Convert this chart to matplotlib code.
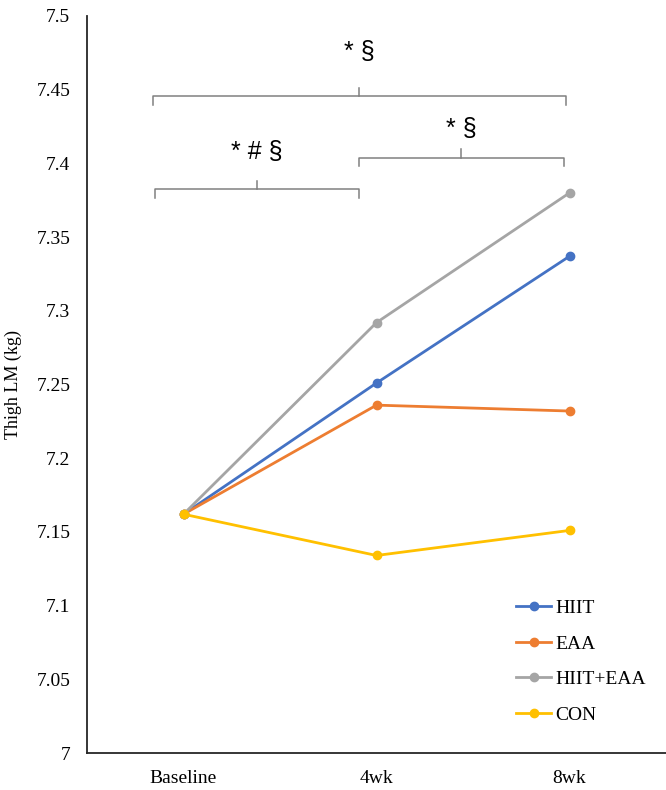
import matplotlib.pyplot as plt

timepoints = ['Baseline', '4wk', '8wk']
hiit = [7.162, 7.251, 7.337]
eaa = [7.162, 7.236, 7.232]
hiit_eaa = [7.162, 7.292, 7.380]
con = [7.162, 7.134, 7.151]

plt.rcParams['font.family'] = ['Liberation Serif', 'DejaVu Serif']

fig = plt.figure(figsize=(6.66, 7.9), dpi=100)
ax = fig.add_axes([87 / 666, 37 / 790, 579 / 666, 737 / 790])

x = list(range(len(timepoints)))
ax.plot(x, hiit, '-o', color='#4472C4', lw=2, ms=6, label='HIIT')
ax.plot(x, eaa, '-o', color='#ED7D31', lw=2, ms=6, label='EAA')
ax.plot(x, hiit_eaa, '-o', color='#A5A5A5', lw=2, ms=6, label='HIIT+EAA')
ax.plot(x, con, '-o', color='#FFC000', lw=2, ms=6, label='CON')

ax.set_xlim(-0.5, 2.5)
ax.set_ylim(7.0, 7.5)
ax.set_yticks([7 + 0.05 * i for i in range(11)])
ax.set_yticklabels(['7', '7.05', '7.1', '7.15', '7.2', '7.25', '7.3',
                    '7.35', '7.4', '7.45', '7.5'])
ax.set_xticks(x)
ax.set_xticklabels(timepoints)
ax.tick_params(length=0, labelsize=14, pad=12)
ax.tick_params(axis='y', pad=12)
ax.set_ylabel('Thigh LM (kg)', fontsize=13, labelpad=10)

for s in ['top', 'right']:
    ax.spines[s].set_visible(False)
for s in ['left', 'bottom']:
    ax.spines[s].set_linewidth(1.3)
    ax.spines[s].set_color('#262626')


# significance brackets
def bracket(x0, x1, y, text, ty):
    hook = 0.006
    xc = (x0 + x1) / 2
    ax.plot([x0, x0, x1, x1], [y - hook, y, y, y - hook], color='#808080', lw=1.1)
    ax.plot([xc, xc], [y, y + 0.0055], color='#808080', lw=1.1)
    ax.text(xc, ty, text, ha='center', va='center', fontsize=18,
            family=['Liberation Sans', 'DejaVu Sans'])


bracket(-0.16, 1.98, 7.4455, '* §', 7.4755)
bracket(-0.15, 0.907, 7.3825, '* # §', 7.4075)
bracket(0.907, 1.97, 7.404, '* §', 7.4235)

ax.legend(loc='lower right', bbox_to_anchor=(0.995, 0.016), frameon=False,
          fontsize=14, labelspacing=0.92, handlelength=1.8, handletextpad=0.2)

fig.savefig('out.png', dpi=100)
